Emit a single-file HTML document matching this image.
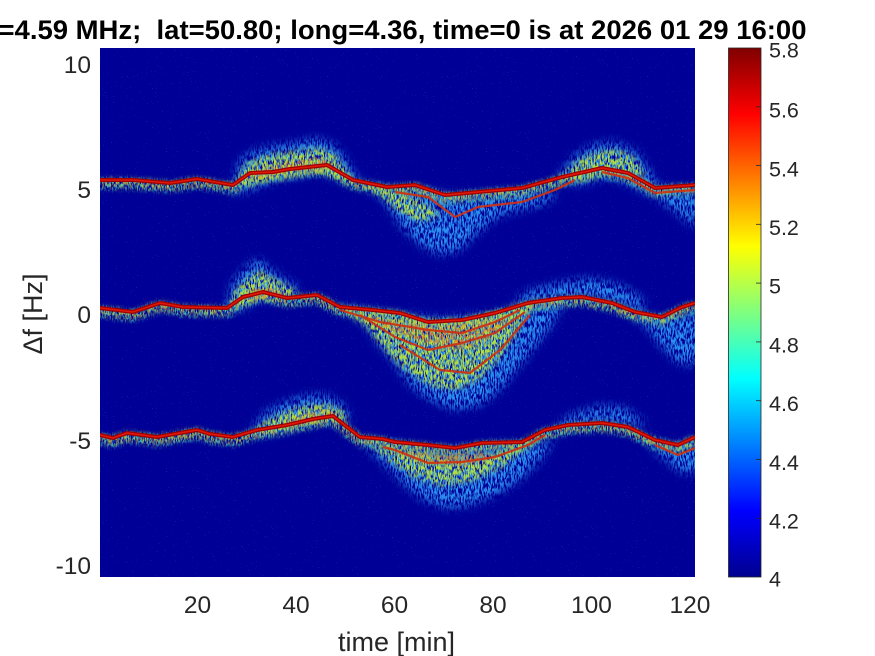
<!DOCTYPE html>
<html>
<head>
<meta charset="utf-8">
<style>
html,body{margin:0;padding:0;background:#fff;}
svg{display:block;}
text{font-family:"Liberation Sans",Arial,sans-serif;fill:#262626;}
</style>
</head>
<body>
<svg width="875" height="656" viewBox="0 0 875 656" xmlns="http://www.w3.org/2000/svg">
<defs>
  <clipPath id="pc"><rect x="100" y="48" width="595" height="529"/></clipPath>
  <filter id="nz" x="0" y="0" width="100%" height="100%">
    <feTurbulence type="fractalNoise" baseFrequency="0.8" numOctaves="1" seed="7"/>
    <feColorMatrix type="matrix" values="0 0 0 0 0.05  0 0 0 0 0.2  0 0 0 0 0.9  0 0 0 12 -8.6"/>
  </filter>
  <filter id="sp1" x="-20%" y="-50%" width="140%" height="200%">
    <feGaussianBlur in="SourceGraphic" stdDeviation="5" result="b"/>
    <feTurbulence type="fractalNoise" baseFrequency="0.7 0.18" numOctaves="2" seed="3" result="t"/>
    <feColorMatrix in="t" type="matrix" values="0 0 0 0 0  0 0 0 0 0  0 0 0 0 0  0 0 0 6 -2.4" result="m"/>
    <feComposite in="b" in2="m" operator="in"/>
  </filter>
  <filter id="sp2" x="-20%" y="-50%" width="140%" height="200%">
    <feGaussianBlur in="SourceGraphic" stdDeviation="3" result="b"/>
    <feTurbulence type="fractalNoise" baseFrequency="0.7 0.2" numOctaves="2" seed="11" result="t"/>
    <feColorMatrix in="t" type="matrix" values="0 0 0 0 0  0 0 0 0 0  0 0 0 0 0  0 0 0 6 -2.5" result="m"/>
    <feComposite in="b" in2="m" operator="in"/>
  </filter>
  <filter id="sp3" x="-20%" y="-50%" width="140%" height="200%">
    <feGaussianBlur in="SourceGraphic" stdDeviation="2" result="b"/>
    <feTurbulence type="fractalNoise" baseFrequency="0.8 0.25" numOctaves="2" seed="21" result="t"/>
    <feColorMatrix in="t" type="matrix" values="0 0 0 0 0  0 0 0 0 0  0 0 0 0 0  0 0 0 6 -2.8" result="m"/>
    <feComposite in="b" in2="m" operator="in"/>
  </filter>
  <linearGradient id="jet" x1="0" y1="0" x2="0" y2="1">
    <stop offset="0" stop-color="#800000"/>
    <stop offset="0.125" stop-color="#ff0000"/>
    <stop offset="0.375" stop-color="#ffff00"/>
    <stop offset="0.625" stop-color="#00ffff"/>
    <stop offset="0.875" stop-color="#0000ff"/>
    <stop offset="1" stop-color="#00008f"/>
  </linearGradient>
</defs>

<!-- Title -->
<text x="-1.5" y="39" font-size="27" font-weight="bold" textLength="808" lengthAdjust="spacingAndGlyphs" style="white-space:pre;fill:#000">=4.59 MHz;  lat=50.80; long=4.36, time=0 is at 2026 01 29 16:00</text>

<!-- Plot area -->
<g clip-path="url(#pc)">
  <rect x="100" y="48" width="595" height="529" fill="#000096"/>
  <rect x="100" y="48" width="595" height="529" filter="url(#nz)" opacity="0.5"/>

  <!-- sparse outer clouds (light blue / cyan) -->
  <g filter="url(#sp1)" fill="#2a90f0">
    <polygon points="350,180 380,195 400,225 420,245 440,255 460,250 480,230 500,215 540,205 560,195 540,190 500,193 460,197 430,192 400,190 370,185"/>
    <polygon points="640,185 660,200 680,215 695,228 700,190 670,188"/>
    <polygon points="335,305 360,320 380,345 395,365 410,385 430,400 455,410 480,405 500,390 520,365 540,340 555,320 565,300 540,305 510,310 480,315 440,318 400,315 370,310"/>
    <polygon points="510,305 530,290 560,283 590,278 620,285 645,300 640,310 610,300 580,296 550,300"/>
    <polygon points="625,310 645,325 660,345 680,365 700,362 700,310 680,315 660,318"/>
    <polygon points="360,440 380,460 400,480 420,498 445,508 470,505 495,495 520,480 540,460 555,440 530,445 500,445 460,450 420,448 390,443"/>
    <polygon points="640,435 660,455 680,472 700,472 700,440 670,447"/>
    <polygon points="225,310 232,283 245,268 258,258 268,268 285,280 300,288 290,298 260,300 240,310"/>
    <polygon points="232,186 240,160 255,150 275,146 295,143 315,138 335,145 350,165 360,185 340,180 320,172 290,178 270,182 250,190 235,194"/>
    <polygon points="250,432 265,412 285,402 305,396 325,395 342,403 352,420 335,420 310,424 285,430 260,436"/>
    <polygon points="550,432 570,415 600,406 625,408 648,425 630,425 600,420 575,425"/>
    <polygon points="555,180 575,155 595,144 615,142 637,152 652,175 662,198 640,190 620,180 600,178 580,185"/>
  </g>

  <!-- halos along traces -->
  <g fill="none" stroke="#30c0c0" stroke-width="12" opacity="0.9" filter="url(#sp3)" stroke-linejoin="round">
    <polyline transform="translate(0,4)" points="100,180 133,180 170,183 197,179 233,185 250,173 273,172 290,169 327,165 353,180 387,187 415,185 445,195 478,192 522,188 562,177 602,168 628,173 655,188 695,185"/>
    <polyline transform="translate(0,4)" points="100,308 133,312 160,303 183,307 227,308 243,297 263,292 287,298 317,295 340,307 373,310 400,313 428,322 462,320 495,313 528,303 562,298 582,297 612,303 635,312 662,317 682,307 695,303"/>
    <polyline transform="translate(0,4)" points="100,435 113,438 127,433 157,437 197,430 210,434 233,437 257,430 287,425 313,419 333,416 360,437 383,439 395,442 428,445 455,448 482,443 522,442 545,430 568,425 602,423 628,427 655,440 678,445 695,437"/>
  </g>
  <g fill="none" stroke="#e0d030" stroke-width="8" opacity="0.8" filter="url(#sp2)" stroke-linejoin="round">
    <polyline transform="translate(0,3)" points="100,180 133,180 170,183 197,179 233,185 250,173 273,172 290,169 327,165 353,180 387,187 415,185 445,195 478,192 522,188 562,177 602,168 628,173 655,188 695,185"/>
    <polyline transform="translate(0,3)" points="100,308 133,312 160,303 183,307 227,308 243,297 263,292 287,298 317,295 340,307 373,310 400,313 428,322 462,320 495,313 528,303 562,298 582,297 612,303 635,312 662,317 682,307 695,303"/>
    <polyline transform="translate(0,3)" points="100,435 113,438 127,433 157,437 197,430 210,434 233,437 257,430 287,425 313,419 333,416 360,437 383,439 395,442 428,445 455,448 482,443 522,442 545,430 568,425 602,423 628,427 655,440 678,445 695,437"/>
  </g>

  <!-- dense inner clouds (green/yellow) -->
  <g filter="url(#sp2)" fill="#b0e040">
    <polygon points="236,186 244,166 258,158 276,154 296,151 316,148 332,152 345,168 352,182 336,178 318,172 292,176 270,180 250,186"/>
    <polygon points="230,305 236,290 248,278 260,270 272,278 288,286 298,292 285,298 260,298 242,306"/>
    <polygon points="340,308 365,325 385,350 405,370 430,385 455,390 478,380 498,360 515,335 532,305 500,312 460,320 420,320 390,315"/>
    <polygon points="255,430 270,418 290,410 310,405 328,404 342,410 348,420 330,420 305,424 282,429"/>
    <polygon points="370,445 392,462 415,478 445,486 475,480 505,465 535,440 500,452 460,458 420,452"/>
    <polygon points="560,178 578,160 598,152 616,150 634,158 646,176 628,174 605,172 582,180"/>
    <polygon points="360,185 380,195 400,212 420,222 440,215 420,200 400,192"/>
  </g>
  <g filter="url(#sp3)" fill="#f07020" opacity="0.8">
    <polygon points="245,180 260,168 290,162 320,158 335,165 320,170 290,172 260,178"/>
    <polygon points="240,300 255,288 270,288 290,294 270,298"/>
    <polygon points="350,312 380,326 420,342 460,350 490,338 510,318 480,322 440,326 400,322"/>
    <polygon points="275,426 300,416 325,410 340,414 320,420 295,426"/>
    <polygon points="390,450 420,462 460,466 500,458 480,452 440,455"/>
  </g>

  <!-- secondary branches -->
  <g fill="none" stroke="#d03010" stroke-width="2.2" opacity="0.9" stroke-linejoin="round">
    <polyline points="395,192 428,197 455,217 478,207 522,202 555,190 575,180"/>
    <polyline points="602,172 628,178 655,193 695,190"/>
    <polyline points="340,310 380,322 428,330 462,333 495,322 520,310"/>
    <polyline points="360,315 395,337 428,350 462,343 495,333 525,312"/>
    <polyline points="400,345 440,370 470,373 500,350 530,315"/>
    <polyline points="383,447 395,450 428,463 462,462 495,457 528,445 545,435"/>
    <polyline points="655,445 678,455 695,448"/>
  </g>

  <!-- main traces -->
  <g fill="none" stroke-linejoin="round" stroke-linecap="round">
    <g stroke="#a00000" stroke-width="4">
      <polyline points="100,180 133,180 170,183 197,179 233,185 250,173 273,172 290,169 327,165 353,180 387,187 415,185 445,195 478,192 522,188 562,177 602,168 628,173 655,188 695,185"/>
      <polyline points="100,308 133,312 160,303 183,307 227,308 243,297 263,292 287,298 317,295 340,307 373,310 400,313 428,322 462,320 495,313 528,303 562,298 582,297 612,303 635,312 662,317 682,307 695,303"/>
      <polyline points="100,435 113,438 127,433 157,437 197,430 210,434 233,437 257,430 287,425 313,419 333,416 360,437 383,439 395,442 428,445 455,448 482,443 522,442 545,430 568,425 602,423 628,427 655,440 678,445 695,437"/>
    </g>
    <g stroke="#e01808" stroke-width="1.5">
      <polyline points="100,180 133,180 170,183 197,179 233,185 250,173 273,172 290,169 327,165 353,180 387,187 415,185 445,195 478,192 522,188 562,177 602,168 628,173 655,188 695,185"/>
      <polyline points="100,308 133,312 160,303 183,307 227,308 243,297 263,292 287,298 317,295 340,307 373,310 400,313 428,322 462,320 495,313 528,303 562,298 582,297 612,303 635,312 662,317 682,307 695,303"/>
      <polyline points="100,435 113,438 127,433 157,437 197,430 210,434 233,437 257,430 287,425 313,419 333,416 360,437 383,439 395,442 428,445 455,448 482,443 522,442 545,430 568,425 602,423 628,427 655,440 678,445 695,437"/>
    </g>
  </g>
</g>

<!-- Y tick labels -->
<g font-size="24.5" text-anchor="end">
  <text x="91" y="73">10</text>
  <text x="91" y="198">5</text>
  <text x="91" y="323">0</text>
  <text x="91" y="449">-5</text>
  <text x="91" y="574">-10</text>
</g>
<!-- X tick labels -->
<g font-size="24.5" text-anchor="middle">
  <text x="197.5" y="613">20</text>
  <text x="296" y="613">40</text>
  <text x="394.5" y="613">60</text>
  <text x="493" y="613">80</text>
  <text x="591.5" y="613">100</text>
  <text x="690" y="613">120</text>
</g>
<!-- Axis labels -->
<text x="396.5" y="651" font-size="27" text-anchor="middle">time [min]</text>
<text transform="translate(42,314) rotate(-90)" font-size="27" text-anchor="middle">Δf [Hz]</text>

<!-- Colorbar -->
<rect x="728.5" y="48" width="32.5" height="529" fill="url(#jet)" stroke="#262626" stroke-width="0.8"/>
<g stroke="#262626" stroke-width="0.8">
  <line x1="756" y1="106.8" x2="761" y2="106.8"/>
  <line x1="756" y1="165.6" x2="761" y2="165.6"/>
  <line x1="756" y1="224.3" x2="761" y2="224.3"/>
  <line x1="756" y1="283.1" x2="761" y2="283.1"/>
  <line x1="756" y1="341.9" x2="761" y2="341.9"/>
  <line x1="756" y1="400.7" x2="761" y2="400.7"/>
  <line x1="756" y1="459.4" x2="761" y2="459.4"/>
  <line x1="756" y1="518.2" x2="761" y2="518.2"/>
</g>
<g font-size="21.5">
  <text x="769" y="57.3">5.8</text>
  <text x="769" y="117.3">5.6</text>
  <text x="769" y="176.3">5.4</text>
  <text x="769" y="235">5.2</text>
  <text x="769" y="293.5">5</text>
  <text x="769" y="352.4">4.8</text>
  <text x="769" y="411.2">4.6</text>
  <text x="769" y="470">4.4</text>
  <text x="769" y="528.7">4.2</text>
  <text x="769" y="586.7">4</text>
</g>
</svg>
</body>
</html>
